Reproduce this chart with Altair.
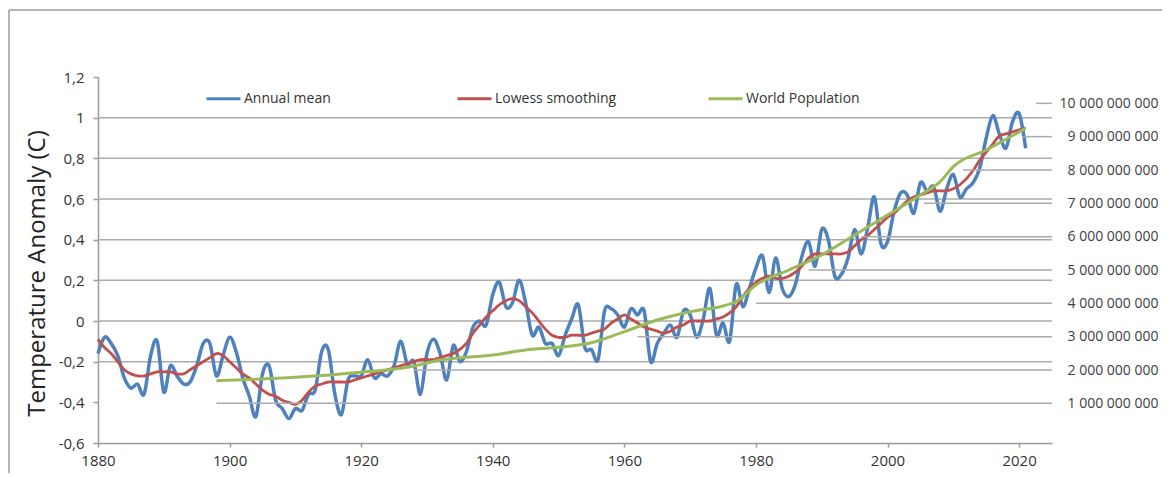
import altair as alt
import pandas as pd

# ---------------- data ----------------
years = list(range(1880, 2022))
annual_mean = [
    -0.16, -0.08, -0.11, -0.17, -0.28, -0.33, -0.31, -0.36, -0.17, -0.10,
    -0.35, -0.22, -0.27, -0.31, -0.30, -0.22, -0.11, -0.11, -0.27, -0.17,
    -0.08, -0.15, -0.28, -0.37, -0.47, -0.26, -0.22, -0.39, -0.43, -0.48,
    -0.43, -0.44, -0.36, -0.34, -0.15, -0.14, -0.36, -0.46, -0.29, -0.27,
    -0.27, -0.19, -0.28, -0.26, -0.27, -0.22, -0.10, -0.21, -0.20, -0.36,
    -0.16, -0.09, -0.16, -0.29, -0.12, -0.20, -0.15, -0.03, -0.00, -0.02,
    0.13, 0.19, 0.07, 0.09, 0.20, 0.09, -0.07, -0.03, -0.11, -0.11,
    -0.17, -0.07, 0.01, 0.08, -0.13, -0.14, -0.19, 0.05, 0.06, 0.03,
    -0.03, 0.06, 0.03, 0.05, -0.20, -0.11, -0.06, -0.02, -0.08, 0.05,
    0.03, -0.08, 0.01, 0.16, -0.07, -0.01, -0.10, 0.18, 0.07, 0.16,
    0.26, 0.32, 0.14, 0.31, 0.16, 0.12, 0.18, 0.32, 0.39, 0.27,
    0.45, 0.40, 0.22, 0.23, 0.31, 0.45, 0.33, 0.46, 0.61, 0.38,
    0.39, 0.54, 0.63, 0.62, 0.53, 0.68, 0.64, 0.66, 0.54, 0.65,
    0.72, 0.61, 0.65, 0.68, 0.75, 0.90, 1.01, 0.92, 0.85, 0.98,
    1.02, 0.85,
]
lowess = [
    -0.09, -0.13, -0.16, -0.20, -0.24, -0.26, -0.27, -0.27, -0.26, -0.25,
    -0.25, -0.25, -0.26, -0.26, -0.24, -0.22, -0.20, -0.18, -0.16, -0.17,
    -0.20, -0.23, -0.26, -0.28, -0.31, -0.34, -0.36, -0.37, -0.39, -0.40,
    -0.41, -0.39, -0.35, -0.32, -0.31, -0.30, -0.30, -0.30, -0.30, -0.29,
    -0.28, -0.27, -0.26, -0.25, -0.24, -0.23, -0.22, -0.21, -0.20, -0.19,
    -0.19, -0.19, -0.18, -0.17, -0.16, -0.14, -0.11, -0.06, -0.02, 0.02,
    0.05, 0.08, 0.10, 0.11, 0.10, 0.07, 0.04, 0.00, -0.04, -0.07,
    -0.08, -0.08, -0.07, -0.07, -0.07, -0.06, -0.05, -0.04, -0.01, 0.01,
    0.03, 0.01, -0.01, -0.03, -0.04, -0.05, -0.06, -0.05, -0.03, -0.02,
    0.00, 0.00, 0.00, 0.00, 0.01, 0.02, 0.04, 0.07, 0.12, 0.16,
    0.19, 0.21, 0.22, 0.21, 0.21, 0.22, 0.24, 0.27, 0.31, 0.33,
    0.33, 0.33, 0.33, 0.33, 0.34, 0.37, 0.40, 0.42, 0.45, 0.48,
    0.51, 0.53, 0.56, 0.59, 0.61, 0.62, 0.63, 0.64, 0.64, 0.64,
    0.65, 0.67, 0.70, 0.74, 0.79, 0.83, 0.87, 0.91, 0.92, 0.93,
    0.94, 0.95,
]
pop_years = [1898, 1910, 1920, 1927, 1932, 1940, 1945, 1950, 1955, 1960, 1965,
             1970, 1975, 1977, 1980, 1985, 1990, 1995, 2000, 2005, 2008, 2010,
             2015, 2021]
pop_billions = [1.68, 1.78, 1.93, 2.08, 2.3, 2.45, 2.6, 2.68, 2.82, 3.15, 3.5,
                3.75, 3.92, 4.05, 4.55, 5.0, 5.45, 6.05, 6.65, 7.25, 7.65, 8.1,
                8.6, 9.25]

series_names = ["Annual mean", "Lowess smoothing", "World Population"]
series_colors = ["#4F81BD", "#C0504D", "#9BBB59"]

year_ticks = [1880, 1900, 1920, 1940, 1960, 1980, 2000, 2020]
temp_ticks = [-0.6, -0.4, -0.2, 0, 0.2, 0.4, 0.6, 0.8, 1.0, 1.2]
temp_grid = [-0.2, 0, 0.2, 0.4, 0.6, 0.8, 1.0]
pop_ticks = [1e9, 2e9, 3e9, 4e9, 5e9, 6e9, 7e9, 8e9, 9e9, 10e9]
pop_grid_start = [1898, 1928, 1962, 1980, 1988, 1996, 2005.5, 2011.5, 2020.5, 2022.6]

# ---------------- tables ----------------
blue_df = pd.DataFrame({"year": years, "value": annual_mean, "series": series_names[0]})
red_df = pd.DataFrame({"year": years, "value": lowess, "series": series_names[1]})
pop_df = pd.DataFrame({"year": pop_years,
                       "pop": [v * 1e9 for v in pop_billions],
                       "series": series_names[2]})
tgrid_df = pd.DataFrame({"v": temp_grid})
pgrid_df = pd.DataFrame({"level": pop_ticks, "start": pop_grid_start})

W, H = 954, 366
GRID = "#ababab"
AXIS = "#9a9a9a"
NARROW = "Liberation Sans Narrow, Arial Narrow, Open Sans"

xscale = alt.Scale(domain=[1880, 2025], nice=False, zero=False)
tscale = alt.Scale(domain=[-0.6, 1.2], nice=False, zero=False)
pscale = alt.Scale(domain=[-0.19e9, 10.79e9], nice=False, zero=False)
cscale = alt.Scale(domain=series_names, range=series_colors)

legend = alt.Legend(
    orient="none", legendX=107, legendY=3, direction="horizontal", title=None,
    symbolType="stroke", symbolSize=1156, symbolStrokeWidth=3,
    labelFont="Open Sans", labelFontSize=14, labelColor="#333333",
    labelOffset=2, columnPadding=85, gridAlign="all", padding=0,
)

left_axis = alt.Axis(
    orient="left", values=temp_ticks, grid=False, labelFlush=False,
    labelExpr="replace(replace(format(datum.value, '.1~f'), '.', ','), '\u2212', '-')",
    labelFont=NARROW, labelFontSize=15, labelColor="#333333", labelPadding=9,
    tickSize=5, tickColor=AXIS, tickWidth=1.5, domainColor=AXIS, domainWidth=1.5,
    title="Temperature Anomaly (C)", titleFont="Open Sans", titleFontSize=24,
    titleFontWeight="normal", titleColor="#222222", titleAngle=-90,
    titleX=-61, titleY=196, titleAlign="center", titleBaseline="middle",
)
right_axis = alt.Axis(
    orient="right", values=pop_ticks, grid=False, ticks=False, tickSize=0,
    domain=False, title=None, labelFlush=False,
    labelExpr="replace(format(datum.value, ',.0f'), regexp(',', 'g'), ' ')",
    labelFont="Open Sans", labelFontSize=14, labelColor="#404040",
    labelAlign="right", labelPadding=106,
)
xaxis = alt.Axis(orient="bottom", values=year_ticks, format="d", grid=False, title=None,
                 labelFlush=False, labelOverlap=False,
                 labelFont=NARROW, labelFontSize=15, labelColor="#333333",
                 labelPadding=6, tickSize=4, tickColor=AXIS, tickWidth=1.5,
                 domainColor=AXIS, domainWidth=1.5)

tgrid = alt.Chart(tgrid_df).mark_rule(color=GRID, strokeWidth=1.5).encode(
    x=alt.X("year_lo:Q", scale=xscale, axis=xaxis),
    x2="year_hi:Q",
    y=alt.Y("v:Q", scale=tscale, axis=left_axis),
).transform_calculate(year_lo="1880", year_hi="2025")

blue = alt.Chart(blue_df).mark_line(strokeWidth=3.5, interpolate="cardinal").encode(
    x=alt.X("year:Q", scale=xscale, axis=xaxis),
    y=alt.Y("value:Q", scale=tscale, axis=None),
    color=alt.Color("series:N", scale=cscale, legend=legend),
)
red = alt.Chart(red_df).mark_line(strokeWidth=2.8, interpolate="cardinal").encode(
    x=alt.X("year:Q", scale=xscale, axis=xaxis),
    y=alt.Y("value:Q", scale=tscale, axis=None),
    color=alt.Color("series:N", scale=cscale, legend=legend),
)
pgrid = alt.Chart(pgrid_df).mark_rule(color=GRID, strokeWidth=1.5).encode(
    x=alt.X("start:Q", scale=xscale, axis=xaxis),
    x2="end:Q",
    y=alt.Y("level:Q", scale=pscale, axis=right_axis),
).transform_calculate(end="2025")
green = alt.Chart(pop_df).mark_line(strokeWidth=3, interpolate="monotone").encode(
    x=alt.X("year:Q", scale=xscale, axis=xaxis),
    y=alt.Y("pop:Q", scale=pscale, axis=None),
    color=alt.Color("series:N", scale=cscale, legend=legend),
)

# outer frame of the original picture
frame_df = pd.DataFrame({"k": [0]})
frame_top = alt.Chart(frame_df).mark_rule(color="#b4b4b4", strokeWidth=2).encode(
    x=alt.value(-89), x2=alt.value(1072), y=alt.value(-67), y2=alt.value(-67))
frame_left = alt.Chart(frame_df).mark_rule(color="#b4b4b4", strokeWidth=2).encode(
    x=alt.value(-89), x2=alt.value(-89), y=alt.value(-67), y2=alt.value(405))

chart = alt.layer(tgrid, blue, red, pgrid, green, frame_top, frame_left).resolve_scale(
    y="independent"
).properties(
    width=W, height=H,
    autosize=alt.AutoSizeParams(type="none"),
    padding={"left": 90, "top": 69, "right": 110, "bottom": 30},
    background="white",
).configure_view(strokeWidth=0)

chart.save("out.html", embed_options={"renderer": "svg", "actions": False})
